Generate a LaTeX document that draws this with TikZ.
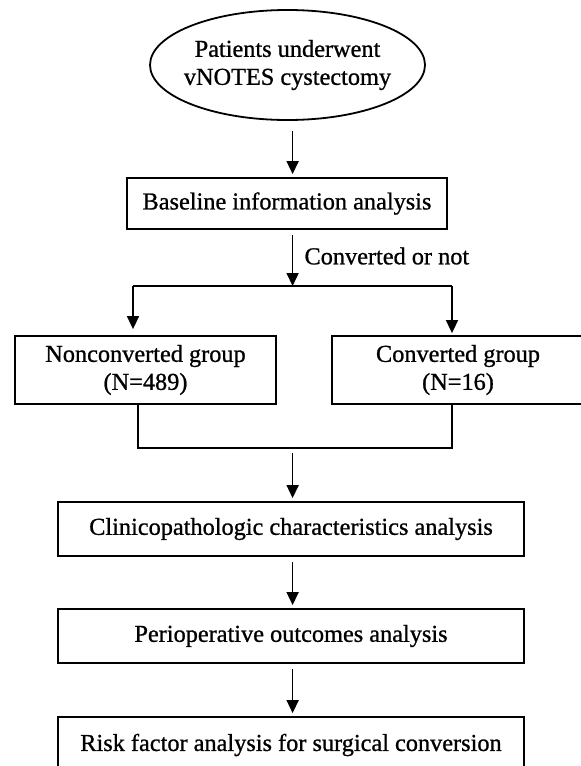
\documentclass[tikz,border=0pt]{standalone}
\usepackage{fontspec}
\setmainfont{Liberation Serif}[FakeBold=0.9]
\usetikzlibrary{arrows.meta,shapes.geometric}
\begin{document}
\begin{tikzpicture}[x=1pt,y=-1pt,
		box/.style={draw,line width=1.8pt,inner sep=0pt,align=center},
		arr/.style={-{Triangle[length=13pt,width=12pt]},line width=1.6pt,shorten <=5pt,shorten >=3pt},
		every node/.style={font=\fontsize{24.3}{28}\selectfont}]
			\useasboundingbox (0,0) rectangle (581,766);
			\clip (0,0) rectangle (581,766);
			\node[draw,ellipse,line width=1.8pt,inner xsep=-8pt,minimum width=275,minimum height=110,align=center] (patients) at (287.5,65) {Patients underwent\\vNOTES cystectomy};
			\node[box,minimum width=320,minimum height=51] (baseline) at (287,203.5) {Baseline information analysis};
			\node[box,minimum width=261,minimum height=68] (noncgroup) at (145.5,370) {Nonconverted group\\(N=489)};
			\node[box,minimum width=252,minimum height=68] (convgroup) at (458,370) {Converted group\\(N=16)};
			\node[box,minimum width=466,minimum height=54] (clinico) at (291,529) {Clinicopathologic characteristics analysis};
			\node[box,minimum width=466,minimum height=54] (periop) at (291,636) {Perioperative outcomes analysis};
			\node[box,minimum width=466,minimum height=56] (risk) at (291,745) {Risk factor analysis for surgical conversion};
			\node[anchor=west] (convlabel) at (301,256) {Converted or not};
			\coordinate (ax) at (292.6,0);
			\coordinate (splitL) at (133,286);
			\coordinate (splitR) at (452,286);
			\coordinate (joinL) at (138,448);
			\coordinate (joinR) at (452,448);
			\draw[arr,shorten <=10pt] (patients.south -| ax) -- (baseline.north -| ax);
			\draw[arr,shorten >=0pt] (baseline.south -| ax) -- (splitL -| ax);
			\draw[line width=1.6pt] (splitL) -- (splitR);
			\draw[arr,shorten <=0pt,shorten >=6pt] (splitL) -- (splitL |- noncgroup.north);
			\draw[arr,shorten <=0pt,shorten >=2pt] (splitR) -- (splitR |- convgroup.north);
			\draw[line width=1.6pt] (joinL |- noncgroup.south) -- (joinL) -- (joinR) -- (joinR |- convgroup.south);
			\draw[arr] (joinL -| ax) -- (clinico.north -| ax);
			\draw[arr] (clinico.south -| ax) -- (periop.north -| ax);
			\draw[arr] (periop.south -| ax) -- (risk.north -| ax);
		\end{tikzpicture}
\end{document}
